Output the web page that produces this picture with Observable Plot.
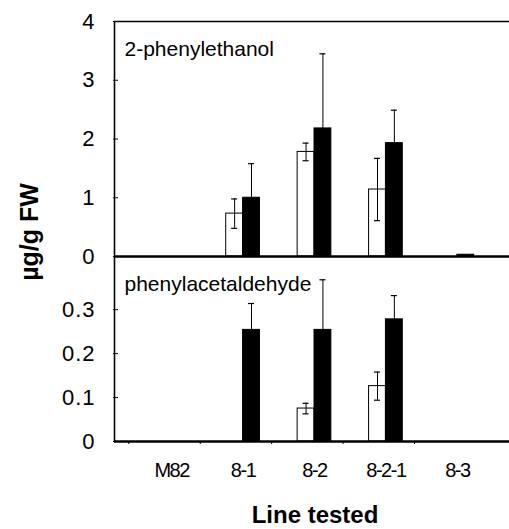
<!DOCTYPE html>
<html>
<head>
<meta charset="utf-8">
<script src="https://cdn.jsdelivr.net/npm/d3@7"></script>
<script src="https://cdn.jsdelivr.net/npm/@observablehq/plot@0.6"></script>
<style>
  html, body { margin: 0; padding: 0; background: #fff; }
  #chart { position: relative; width: 509px; height: 529px; overflow: hidden; }
  #chart svg { position: absolute; left: 0; }
</style>
</head>
<body>
<div id="chart"></div>
<script>
// Categories (lines tested)
const lines = ["M82", "8-1", "8-2", "8-2-1", "8-3"];

// 2-phenylethanol (µg/g FW): white = open bars, black = filled bars
const peWhite    = [0, 0.73, 1.78, 1.14, 0];
const peWhiteErr = [0, 0.25, 0.15, 0.53, 0];
const peBlack    = [0, 1.00, 2.18, 1.93, 0.03];
const peBlackErr = [0, 0.58, 1.27, 0.56, 0];

// phenylacetaldehyde (µg/g FW)
const paWhite    = [0, 0, 0.075, 0.126, 0];
const paWhiteErr = [0, 0, 0.012, 0.032, 0];
const paBlack    = [0, 0.254, 0.254, 0.278, 0];
const paBlackErr = [0, 0.06, 0.114, 0.054, 0];

const topTicks = [0, 1, 2, 3, 4];
const bottomTicks = [0, 0.1, 0.2, 0.3];

const FONT = "'Liberation Sans', Arial, Helvetica, sans-serif";
const xDomain = [-0.8, 4.73];
const BW = 0.236;   // bar width in category units
const CAP = 0.042;  // half cap width

function rows(white, whiteErr, black, blackErr) {
  const out = [];
  lines.forEach((name, i) => {
    if (white[i] > 0) out.push({i, x1: i - BW, x2: i, xc: i - BW / 2, v: white[i], e: whiteErr[i], kind: "white"});
    if (black[i] > 0) out.push({i, x1: i, x2: i + BW, xc: i + BW / 2, v: black[i], e: blackErr[i], kind: "black"});
  });
  return out;
}

function panelMarks(data, ticks, fmt, label) {
  const withErr = data.filter(d => d.e > 0);
  return [
    Plot.rectY(data, {x1: "x1", x2: "x2", y1: 0, y2: "v",
      fill: d => d.kind === "black" ? "#000" : "#fff", stroke: "#000", strokeWidth: 1}),
    Plot.ruleX(withErr, {x: "xc", y1: d => d.v - d.e, y2: d => d.v + d.e, stroke: "#000", strokeWidth: 1}),
    Plot.ruleY(withErr, {y: d => d.v + d.e, x1: d => d.xc - CAP, x2: d => d.xc + CAP, stroke: "#000", strokeWidth: 1.2}),
    Plot.ruleY(withErr.filter(d => d.kind === "white"), {y: d => d.v - d.e, x1: d => d.xc - CAP, x2: d => d.xc + CAP, stroke: "#000", strokeWidth: 1.2}),
    Plot.ruleX([xDomain[0]], {stroke: "#000", strokeWidth: 1.6}),
    Plot.ruleY([0], {stroke: "#000", strokeWidth: 2.4}),
    Plot.axisY({ticks, label: null, tickSize: 5, dx: 4, tickFormat: () => "", strokeWidth: 1}),
    Plot.axisY({ticks, label: null, tickSize: 0, tickPadding: 19, tickFormat: fmt, fontSize: 22, fill: "#000"}),
    Plot.text([label], {frameAnchor: "top-left", textAnchor: "start", lineAnchor: "top",
      dx: 10, dy: 20, fontSize: 21, fill: "#000"})
  ];
}

// Top panel: 2-phenylethanol
const topData = rows(peWhite, peWhiteErr, peBlack, peBlackErr);
const topPlot = Plot.plot({
  width: 509, height: 258,
  marginTop: 21, marginBottom: 2, marginLeft: 114, marginRight: 0,
  x: {domain: xDomain, axis: null, label: null},
  y: {domain: [0, 4], axis: null, label: null},
  style: {fontFamily: FONT, background: "transparent", overflow: "visible", color: "#000"},
  marks: [
    ...panelMarks(topData, topTicks, d => String(d), "2-phenylethanol"),
    Plot.ruleY([4], {stroke: "#000", strokeWidth: 1.3}),
    Plot.text(["µg/g FW"], {frameAnchor: "left", rotate: -90, textAnchor: "middle", lineAnchor: "middle",
      dx: -85, dy: 93, fontSize: 25, fontWeight: "bold", fill: "#000"})
  ]
});

// Bottom panel: phenylacetaldehyde
const botData = rows(paWhite, paWhiteErr, paBlack, paBlackErr);
const botPlot = Plot.plot({
  width: 509, height: 273,
  marginTop: 0, marginBottom: 88, marginLeft: 114, marginRight: 0,
  x: {domain: xDomain, axis: null, label: null},
  y: {domain: [0, 0.421], axis: null, label: null},
  style: {fontFamily: FONT, background: "transparent", overflow: "visible", color: "#000"},
  marks: [
    ...panelMarks(botData, bottomTicks, d => d === 0 ? "0" : d.toFixed(1), "phenylacetaldehyde"),
    Plot.axisX({ticks: lines.map((_, i) => i - 0.6), label: null, tickSize: 3, tickFormat: () => "", strokeWidth: 1}),
    Plot.axisX({ticks: lines.map((_, i) => i), label: null, tickSize: 0, tickPadding: 21,
      tickFormat: i => lines[i], fontSize: 20, fill: "#000"}),
    Plot.text(["Line tested"], {frameAnchor: "bottom", lineAnchor: "middle", textAnchor: "middle",
      dx: 3, dy: 74, fontSize: 24, fontWeight: "bold", fill: "#000"})
  ]
});

const chart = document.getElementById("chart");
topPlot.style.top = "0px";
botPlot.style.top = "256px";
chart.appendChild(botPlot);
chart.appendChild(topPlot);

d3.select(botPlot).selectAll('g[aria-label="x-axis tick label"] text').attr("letter-spacing", "-1.5");
d3.select(topPlot).selectAll('g[aria-label="y-axis tick label"] text').attr("letter-spacing", "1");
d3.select(botPlot).selectAll('g[aria-label="y-axis tick label"] text').attr("letter-spacing", "1");
</script>
</body>
</html>
